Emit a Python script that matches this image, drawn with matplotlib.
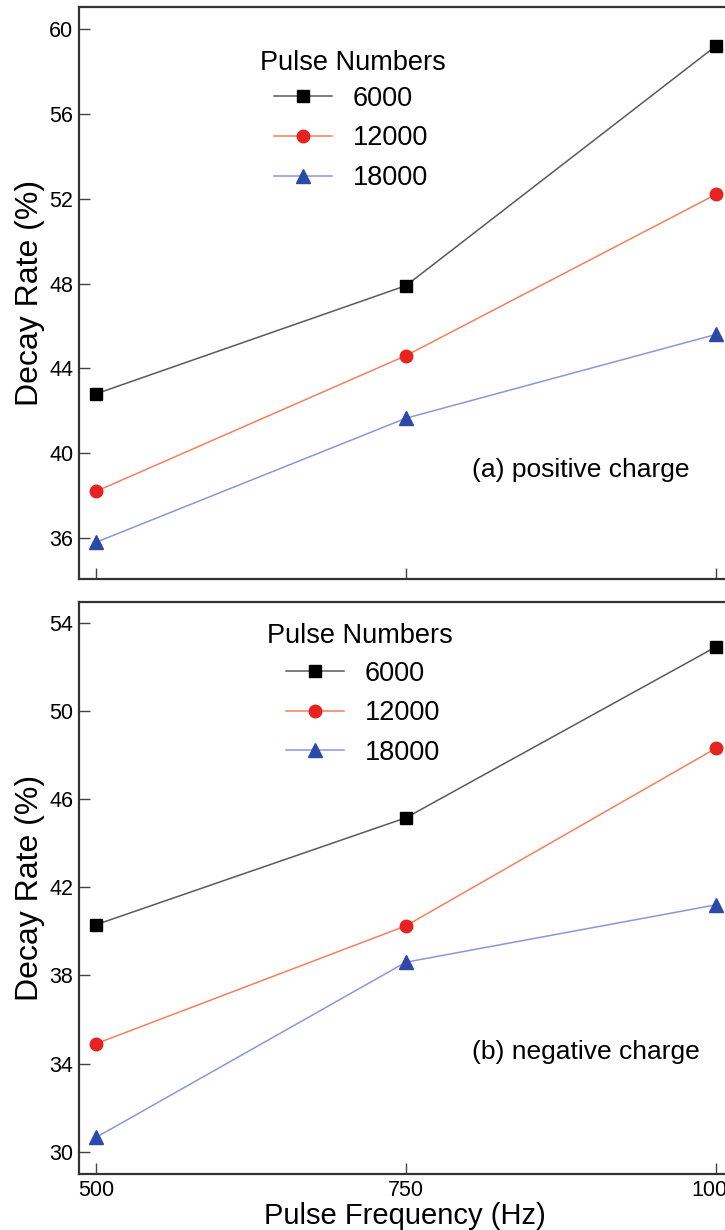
import matplotlib
matplotlib.use("Agg")
import matplotlib.pyplot as plt

plt.rcParams['font.family'] = ['Liberation Sans', 'DejaVu Sans']

freq = [500, 750, 1000]
pulse_labels = ["6000", "12000", "18000"]
# panel (a) positive charge
pos_6000 = [42.8, 47.9, 59.2]
pos_12000 = [38.2, 44.6, 52.2]
pos_18000 = [35.8, 41.65, 45.6]
# panel (b) negative charge
neg_6000 = [40.3, 45.15, 52.9]
neg_12000 = [34.9, 40.25, 48.3]
neg_18000 = [30.65, 38.6, 41.2]
yticks_a = [36, 40, 44, 48, 52, 56, 60]
yticks_b = [30, 34, 38, 42, 46, 50, 54]

# (line colour, marker colour, marker, size)
styles = [("#5a5a5a", "black", "s", 8),
          ("#f3805f", "#e8221e", "o", 9),
          ("#8d96d8", "#2c49a8", "^", 10)]

fig = plt.figure(figsize=(7.25, 12.3), dpi=100)
ax_a = fig.add_axes([0.109, 0.5293, 0.8977, 0.4650])
ax_b = fig.add_axes([0.109, 0.0455, 0.8977, 0.4651])


def draw(ax, series, yt, ylim, tag, leg_xy, title_xy):
    hs = []
    for vals, lab, (lc, mc, mk, ms) in zip(series, pulse_labels, styles):
        h, = ax.plot(freq, vals, "-", color=lc, lw=1.1, marker=mk, ms=ms,
                     mfc=mc, mec=mc, label=lab, clip_on=False)
        hs.append(h)
    ax.set_xlim(486.3, 1011.3); ax.set_ylim(*ylim)
    ax.set_xticks(freq); ax.set_yticks(yt)
    ax.tick_params(direction="in", length=8, width=1, color="#444",
                   labelsize=15.5, pad=4)
    for s in ax.spines.values():
        s.set_linewidth(1.6); s.set_color("#333")
    ax.set_ylabel("Decay Rate (%)", fontsize=23, labelpad=3)
    ax.text(*title_xy, "Pulse Numbers", transform=ax.transAxes,
            fontsize=19.5, va="center", ha="left")
    ax.legend(handles=hs, loc="upper left", bbox_to_anchor=leg_xy,
              frameon=False, fontsize=19.5, handlelength=2.14,
              handletextpad=0.78, labelspacing=0.5, borderaxespad=0,
              borderpad=0)
    ax.text(0.604, tag[1], tag[0], transform=ax.transAxes, fontsize=19,
            va="center", ha="left")


draw(ax_a, [pos_6000, pos_12000, pos_18000], yticks_a, (34.07, 61.04),
     ("(a) positive charge", 0.1906), (0.2995, 0.862), (0.278, 0.902))
draw(ax_b, [neg_6000, neg_12000, neg_18000], yticks_b, (28.99, 54.94),
     ("(b) negative charge", 0.213), (0.318, 0.897), (0.289, 0.941))
ax_a.tick_params(labelbottom=False)
ax_b.set_xlabel("Pulse Frequency (Hz)", fontsize=21, labelpad=1)

fig.savefig("out.png", dpi=100)
